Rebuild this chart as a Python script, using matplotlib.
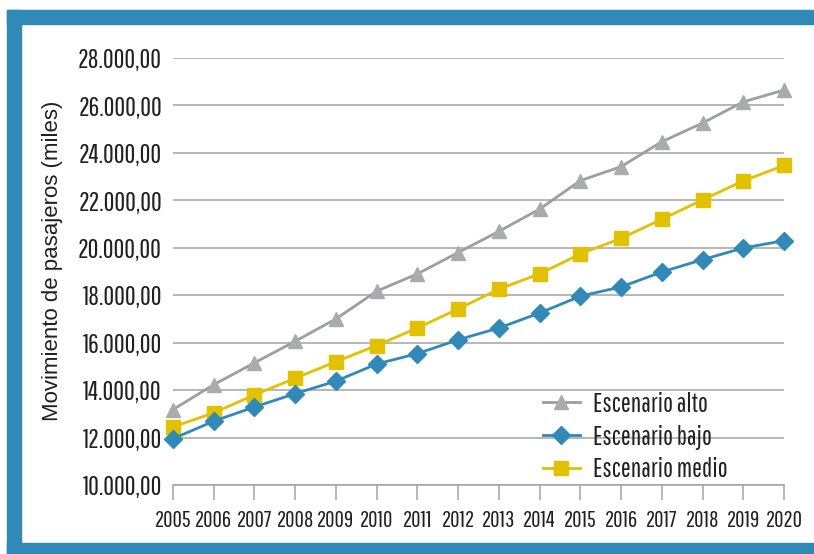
import matplotlib
matplotlib.use("Agg")
import matplotlib.pyplot as plt
from matplotlib.patches import Rectangle
from matplotlib.ticker import FuncFormatter, MultipleLocator

years = list(range(2005, 2021))
alto = [13180, 14230, 15150, 16060, 17000, 18170, 18900, 19800, 20690, 21630,
        22830, 23420, 24470, 25260, 26150, 26650]
bajo = [11950, 12690, 13290, 13850, 14380, 15100, 15540, 16120, 16620, 17250,
        17960, 18350, 18980, 19500, 19990, 20300]
medio = [12450, 13040, 13800, 14500, 15200, 15880, 16620, 17420, 18260, 18900,
         19740, 20400, 21200, 22020, 22820, 23470]
series_names = ["Escenario alto", "Escenario bajo", "Escenario medio"]
y_label = "Movimiento de pasajeros (miles)"

BLUE = "#3189B8"
GRAY_LINE = "#9C9EA1"
GRAY_MK = "#A9ABAE"
YELLOW = "#E2C100"
TXT = "#231F20"
COND = ["Pathway Gothic One", "DejaVu Sans"]

W, H = 814, 554
fig = plt.figure(figsize=(W / 100, H / 100), dpi=100)

# frame
def px_rect(x0, y0, x1, y1):
    fig.patches.append(Rectangle((x0 / W, 1 - y1 / H), (x1 - x0) / W, (y1 - y0) / H,
                                 transform=fig.transFigure, color=BLUE, zorder=0))
px_rect(7, 10, W, 24)
px_rect(7, 10, 20.5, H)
px_rect(7, 543, W, H)

ax = fig.add_axes([173 / W, 1 - 485 / H, (784 - 173) / W, (485 - 58) / H])
ax.set_xlim(2005, 2020)
ax.set_ylim(10000, 28000)

ax.plot(years, alto, color=GRAY_LINE, lw=2.0, marker="^", ms=10.5,
        mfc=GRAY_MK, mec=GRAY_MK, label=series_names[0], clip_on=False, zorder=3)
ax.plot(years, bajo, color=BLUE, lw=2.0, marker="D", ms=9, mfc=BLUE, mec=BLUE,
        label=series_names[1], clip_on=False, zorder=4)
ax.plot(years, medio, color=YELLOW, lw=2.0, marker="s", ms=10, mfc=YELLOW, mec=YELLOW,
        label=series_names[2], clip_on=False, zorder=3)

ax.yaxis.set_major_locator(MultipleLocator(2000))
ax.xaxis.set_major_locator(MultipleLocator(1))

def fmt(v, pos):
    s = f"{v:,.2f}"
    return s.replace(",", "X").replace(".", ",").replace("X", ".")
ax.yaxis.set_major_formatter(FuncFormatter(fmt))
ax.xaxis.set_major_formatter(FuncFormatter(lambda v, p: f"{int(round(v))}"))

ax.grid(axis="y", color="#A3A3A3", lw=1.1)
ax.set_axisbelow(True)
for s in ["top", "right", "left"]:
    ax.spines[s].set_visible(False)
ax.spines["bottom"].set_color("#A3A3A3")
ax.spines["bottom"].set_linewidth(1.1)

ax.tick_params(axis="y", length=0, pad=8, labelsize=19, labelcolor=TXT)
ax.tick_params(axis="x", length=11, width=1.1, color="#A3A3A3", direction="out",
               pad=7, labelsize=16.5, labelcolor=TXT)
for lab in ax.get_yticklabels() + ax.get_xticklabels():
    lab.set_family(COND)

fig.text(53 / W, 1 - 261 / H, y_label, rotation=90, ha="center", va="center",
         fontsize=16, color=TXT, family=["Liberation Sans", "DejaVu Sans"])

leg = ax.legend(loc="center left", bbox_to_anchor=(543 / W, 1 - 437 / H),
                bbox_transform=fig.transFigure, frameon=False,
                prop={"family": COND, "size": 19}, handlelength=1.4,
                handletextpad=0.5, labelspacing=0.3, borderpad=0, borderaxespad=0)
for t in leg.get_texts():
    t.set_color(TXT)

fig.savefig("out.png", dpi=100)
